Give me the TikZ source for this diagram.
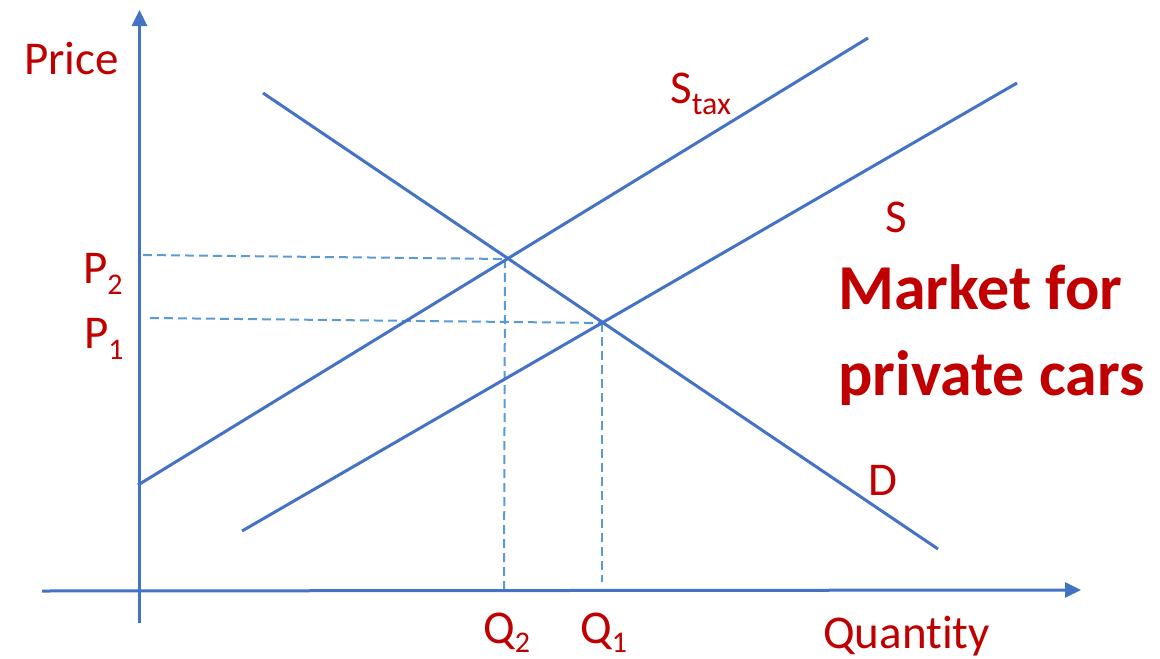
\documentclass[tikz,border=0pt]{standalone}
\usepackage{fontspec}
\setmainfont{Carlito}[Ligatures=NoCommon]
\usetikzlibrary{arrows.meta}
\definecolor{txtred}{HTML}{C00000}
\definecolor{lineblue}{HTML}{4472C4}
\definecolor{dashblue}{HTML}{5B9BD5}
\tikzset{
  axisline/.style={draw=lineblue,line width=3pt,-{Triangle[length=16pt,width=15pt]}},
  curve/.style={draw=lineblue,line width=3pt},
  guide/.style={draw=dashblue,line width=2pt,dash pattern=on 9pt off 5pt},
  lbl/.style={text=txtred,inner sep=0pt,anchor=base west,font=\fontsize{47}{50}\selectfont},
  big/.style={text=txtred,inner sep=0pt,anchor=base west,font=\bfseries\fontsize{64}{74}\selectfont,align=left},
}
\newcommand{\sbs}[1]{\raisebox{-11pt}{\fontsize{30}{30}\selectfont #1}}
\newcommand{\qsbs}[1]{\raisebox{-9pt}{\fontsize{30}{30}\selectfont #1}}
\begin{document}
\begin{tikzpicture}[x=1pt,y=-1pt]
\useasboundingbox (0,0) rectangle (1160,659);
% coordinates
\coordinate (yb) at (139.5,623);
\coordinate (yt) at (139.5,10);
\coordinate (xl) at (42,591);
\coordinate (xr) at (1081,590);
\coordinate (d1) at (263,93);
\coordinate (d2) at (938,549);
\coordinate (t1) at (138,485);
\coordinate (t2) at (868,38);
\coordinate (s1) at (242,531);
\coordinate (s2) at (1017,83);
\coordinate (e2) at (505,259);
\coordinate (e1) at (602,323);
\coordinate (p2l) at (143,255);
\coordinate (p1l) at (150,318);
\coordinate (q2b) at (504,595);
\coordinate (q1b) at (602,582);
% guides
\draw[guide] (p2l) -- (e2);
\draw[guide] (e2) -- (q2b);
\draw[guide] (p1l) -- (e1);
\draw[guide] (e1) -- (q1b);
% axes
\draw[axisline] (yb) -- (yt);
\draw[axisline] (xl) -- (xr);
% curves
\draw[curve] (d1) -- (d2);
\draw[curve] (t1) -- (t2);
\draw[curve] (s1) -- (s2);
% labels
\node[lbl] (price) at (24,74) {Price};
\node[lbl] (p2) at (83,283) {P\sbs{2}};
\node[lbl] (p1) at (84,348) {P\sbs{1}};
\node[lbl] (q2) at (483,643) {Q\qsbs{2}};
\node[lbl] (q1) at (580,643) {Q\qsbs{1}};
\node[lbl] (qty) at (823,648) {Quantity};
\node[lbl] (stax) at (670,103) {S\raisebox{-11pt}{\fontsize{32}{32}\selectfont tax}};
\node[lbl] (s) at (885,232) {S};
\node[lbl] (d) at (868,495) {D};
\node[big] (m1) at (838,309) {Market for};
\node[big] (m2) at (838,395) {private cars};
\end{tikzpicture}
\end{document}
